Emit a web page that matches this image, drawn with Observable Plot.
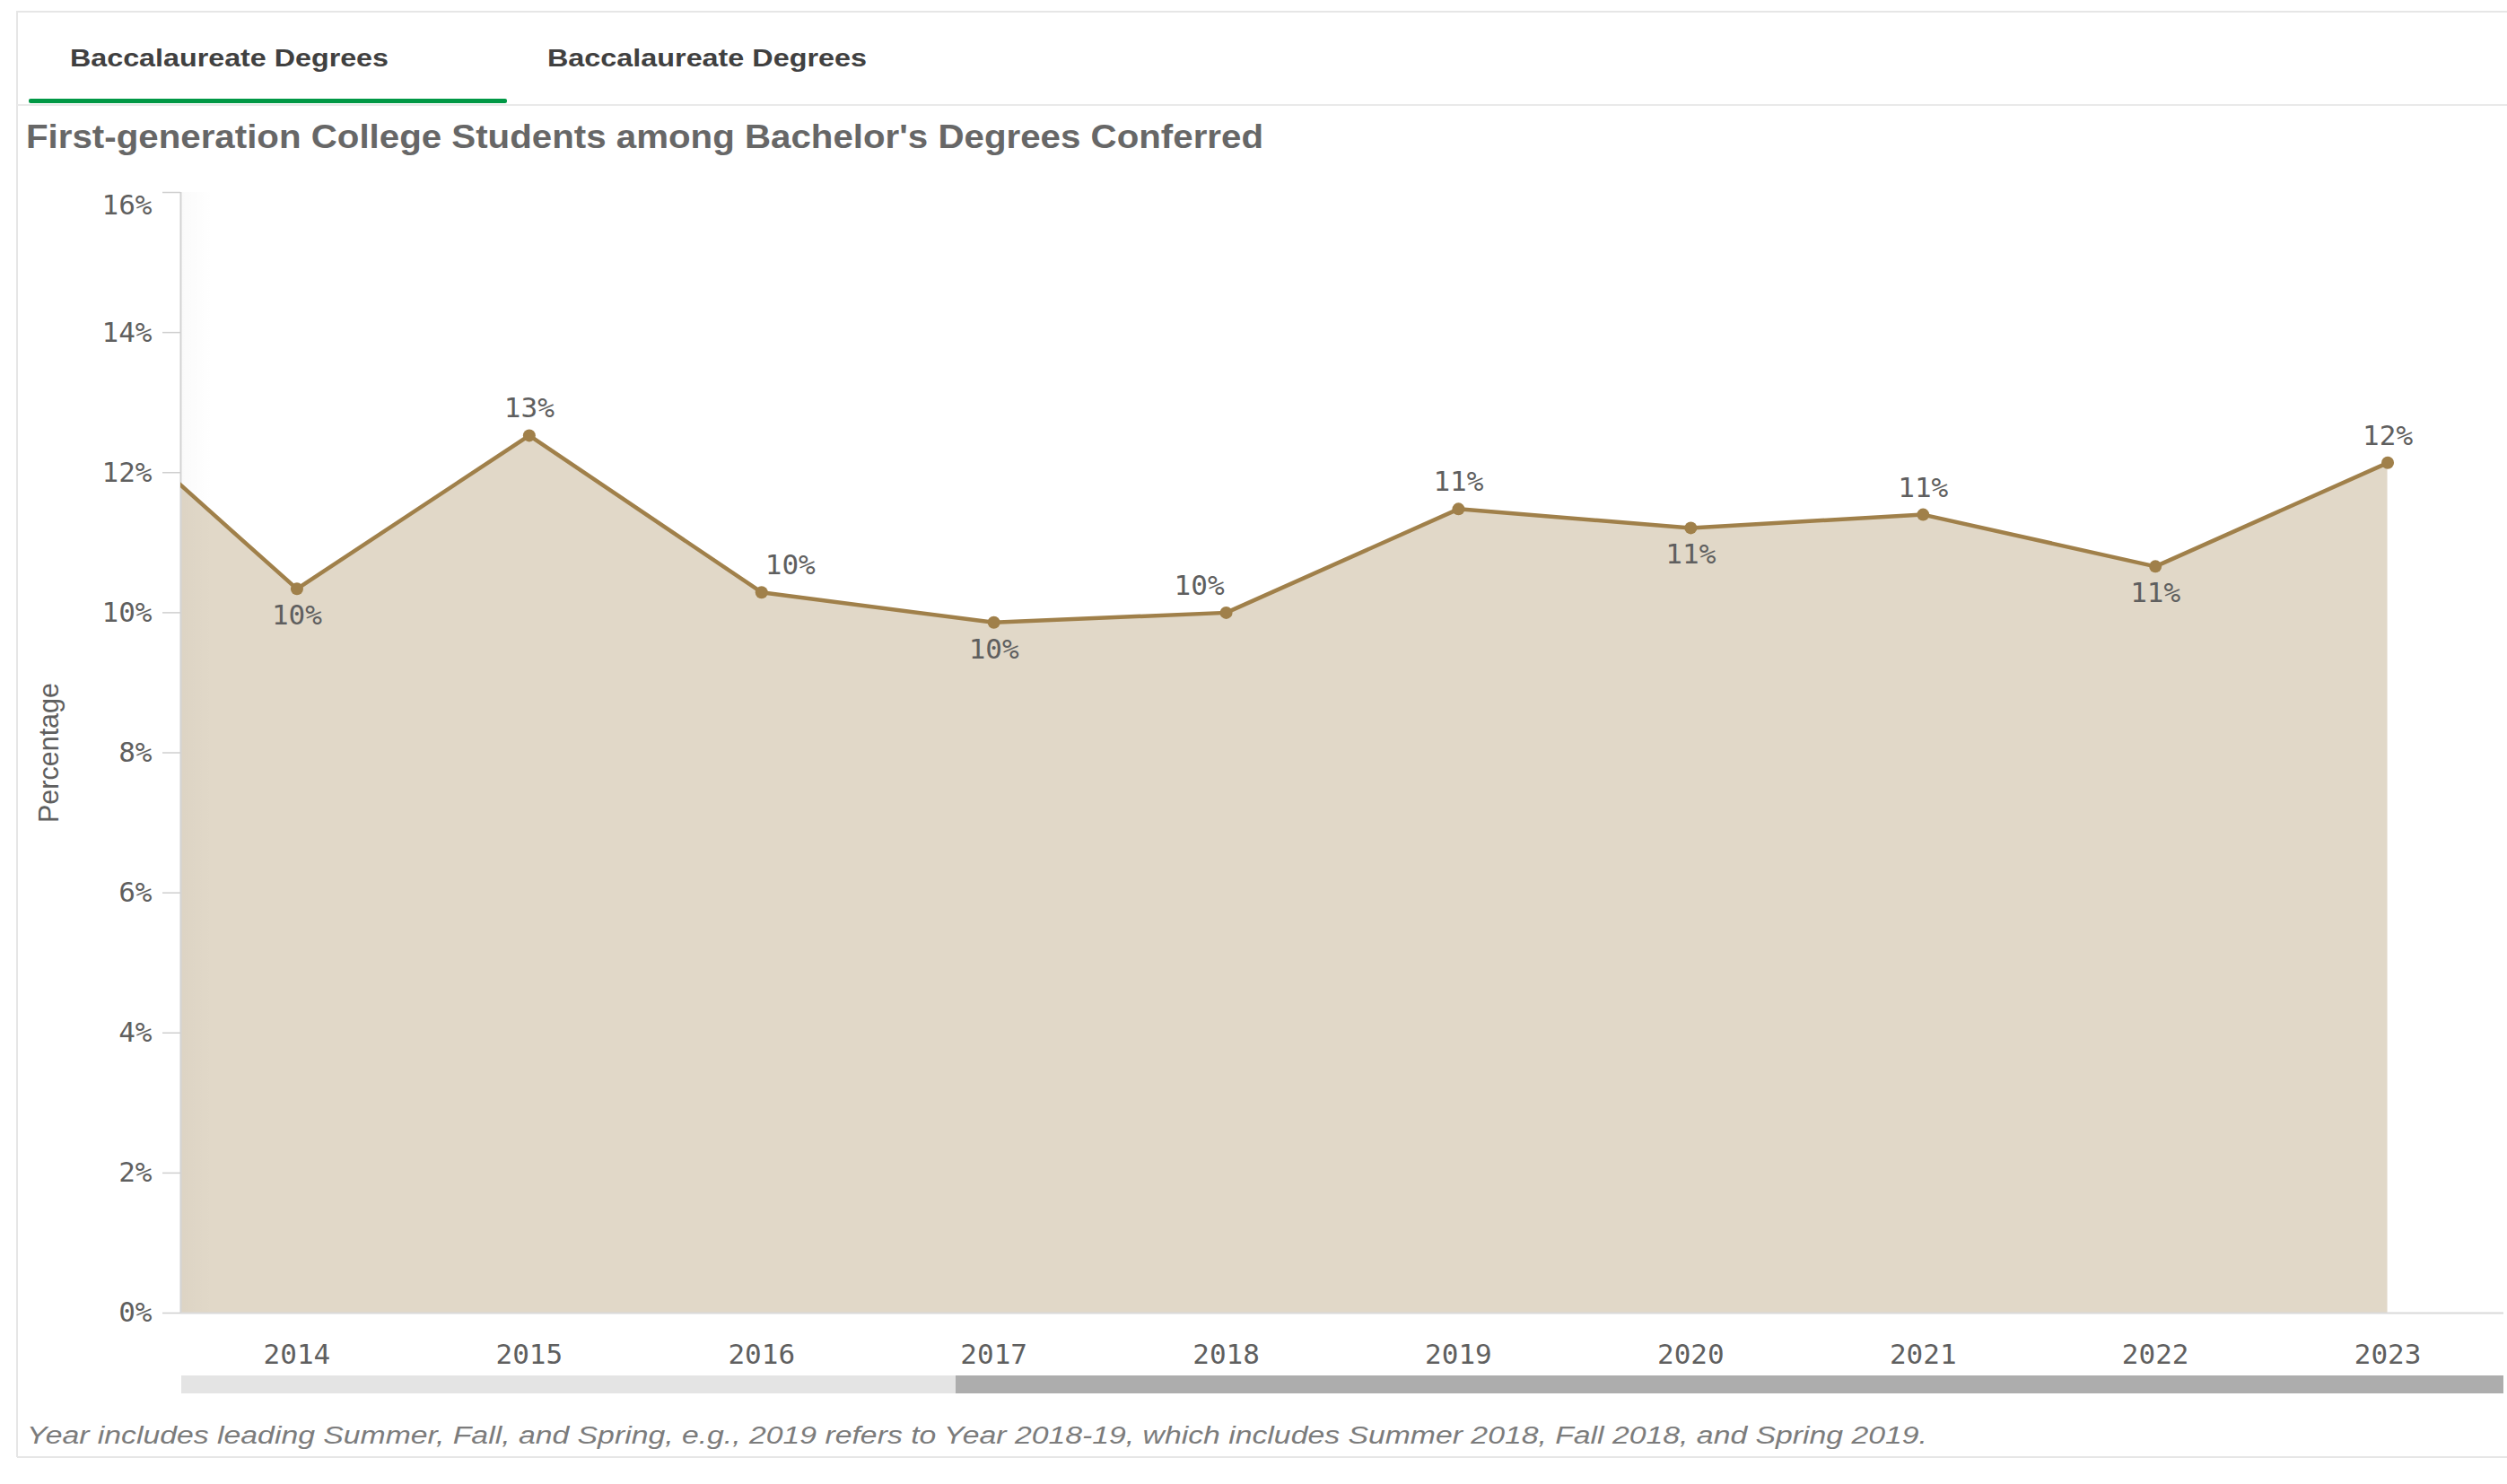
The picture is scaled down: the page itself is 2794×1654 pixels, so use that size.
<!DOCTYPE html>
<html><head><meta charset="utf-8">
<script src="https://cdn.jsdelivr.net/npm/d3@7"></script>
<script src="https://cdn.jsdelivr.net/npm/@observablehq/plot@0.6"></script>
<style>
html,body{margin:0;padding:0;background:#fff;}
#page{position:relative;width:2794px;height:1654px;overflow:hidden;font-family:"Liberation Sans",Arial,sans-serif;}
.abs{position:absolute;white-space:nowrap;}
#chart{position:absolute;left:0;top:180px;}
</style></head><body><div id="page"></div>
<script>
// ---- data ----
const years  = [2013, 2014, 2015, 2016, 2017, 2018, 2019, 2020, 2021, 2022, 2023];
const shares = [0.133, 0.1034, 0.1253, 0.1029, 0.0986, 0.1000, 0.1148, 0.1121, 0.1140, 0.1066, 0.1214];
const xTicks = [2014, 2015, 2016, 2017, 2018, 2019, 2020, 2021, 2022, 2023];
const yTicks = [0, 0.02, 0.04, 0.06, 0.08, 0.10, 0.12, 0.14, 0.16];
const tabLabels = ["Baccalaureate Degrees", "Baccalaureate Degrees"];
const titleText = "First-generation College Students among Bachelor's Degrees Conferred";
const yLabel = "Percentage";
const captionText = "Year includes leading Summer, Fall, and Spring, e.g., 2019 refers to Year 2018-19, which includes Summer 2018, Fall 2018, and Spring 2019.";

// ---- table ----
const data = years.map((year, i) => ({year, value: shares[i], prev: shares[i - 1], next: shares[i + 1]}));
function placement(d) {
  const hasP = d.prev !== undefined, hasN = d.next !== undefined;
  if (hasP && hasN && d.value < d.prev && d.value < d.next) return "below";
  if (hasP && hasN && d.prev > d.value && d.next < d.value) return "aboveRight";
  if (hasP && hasN && d.prev < d.value && d.next > d.value) return "aboveLeft";
  return "above";
}
const shown = data.filter(d => d.year >= xTicks[0]);
const pct = d3.format(".0%");

const page = document.getElementById("page");
function addDiv(style, text) {
  const el = document.createElement("div");
  el.className = "abs";
  Object.assign(el.style, style);
  if (text !== undefined) el.textContent = text;
  page.appendChild(el);
  return el;
}
function fit(el, w) {
  const r = el.getBoundingClientRect().width;
  el.style.transformOrigin = "left center";
  el.style.transform = `scaleX(${w / r})`;
}

// frame
addDiv({left: "19px", top: "12px", width: "2775px", height: "0", borderTop: "2px solid #e6e6e6"});
addDiv({left: "18px", top: "12px", width: "0", height: "1612px", borderLeft: "2px solid #e6e6e6"});
addDiv({left: "19px", top: "1623px", width: "2775px", height: "0", borderTop: "2px solid #e6e6e6"});
addDiv({left: "19px", top: "116px", width: "2775px", height: "0", borderTop: "2px solid #e9e9e9"});
addDiv({left: "32px", top: "110px", width: "533px", height: "5px", background: "#009845", borderRadius: "2px"});

const tab1 = addDiv({left: "78px", top: "52px", fontSize: "27px", lineHeight: "27px", fontWeight: "bold", color: "#404040"}, tabLabels[0]);
const tab2 = addDiv({left: "610px", top: "52px", fontSize: "27px", lineHeight: "27px", fontWeight: "bold", color: "#404040"}, tabLabels[1]);
const title = addDiv({left: "29px", top: "134px", fontSize: "37px", lineHeight: "37px", fontWeight: "bold", color: "#676767"}, titleText);
const caption = addDiv({left: "30px", top: "1587px", fontSize: "27px", lineHeight: "27px", fontStyle: "italic", color: "#7c7c7c"}, captionText);

// ---- chart ----
const lineColor = "#a0804a";
const areaColor = "#e1d8c8";
const textColor = "#5f5f5f";
const mono = "DejaVu Sans Mono";

const chart = Plot.plot({
  width: 2794,
  height: 1380,
  marginTop: 34,
  marginBottom: 97,
  marginLeft: 201,
  marginRight: 4,
  style: {fontFamily: mono, fontSize: "31px", color: textColor, background: "transparent", overflow: "visible"},
  x: {domain: [2013.5, 2023.5]},
  y: {domain: [0, 0.16]},
  marks: [
    Plot.areaY(data, {x: "year", y: "value", fill: areaColor, clip: true}),
    Plot.ruleX([2013.5], {y1: 0, y2: 0.16, stroke: "#d2d2d2", strokeWidth: 2}),
    Plot.ruleY([0], {stroke: "#d9d9d9", strokeWidth: 2}),
    Plot.axisY(yTicks, {tickSize: 20, tickPadding: 12, stroke: "#cfcfcf", strokeWidth: 1.5, fill: textColor, label: null,
      fontFamily: mono, fontSize: 31, tickFormat: t => (t === yTicks[yTicks.length - 1] ? "" : pct(t))}),
    Plot.text([yTicks[yTicks.length - 1]], {y: d => d, frameAnchor: "left", dx: -32, dy: 15, textAnchor: "end",
      text: d => pct(d), fill: textColor, fontFamily: mono, fontSize: 31}),
    Plot.axisX(xTicks, {tickSize: 0, tickPadding: 34, tickFormat: d => String(d), fill: textColor, label: null,
      fontFamily: mono, fontSize: 31}),
    Plot.lineY(data, {x: "year", y: "value", stroke: lineColor, strokeWidth: 4.5, clip: true}),
    Plot.dot(shown, {x: "year", y: "value", r: 7, fill: lineColor, stroke: null}),
    Plot.text(shown.filter(d => placement(d) === "above"), {x: "year", y: "value", text: d => pct(d.value), dy: -30, fill: textColor, fontFamily: mono, fontSize: 31}),
    Plot.text(shown.filter(d => placement(d) === "aboveRight"), {x: "year", y: "value", text: d => pct(d.value), dy: -30, dx: 32, fill: textColor, fontFamily: mono, fontSize: 31}),
    Plot.text(shown.filter(d => placement(d) === "aboveLeft"), {x: "year", y: "value", text: d => pct(d.value), dy: -30, dx: -30, fill: textColor, fontFamily: mono, fontSize: 31}),
    Plot.text(shown.filter(d => placement(d) === "below"), {x: "year", y: "value", text: d => pct(d.value), dy: 30, fill: textColor, fontFamily: mono, fontSize: 31}),
    Plot.text([yLabel], {frameAnchor: "left", textAnchor: "middle", dx: -146, rotate: -90, fill: textColor, fontFamily: "Liberation Sans", fontSize: 30.5})
  ]
});
chart.id = "chart";
page.appendChild(chart);

// faint scroll shadow at left edge of the plot
addDiv({left: "203px", top: "214px", width: "34px", height: "1248px", background: "linear-gradient(to right, rgba(0,0,0,0.02), rgba(0,0,0,0))"});
// scrollbar
addDiv({left: "202px", top: "1533px", width: "863px", height: "20px", background: "#e4e4e4"});
addDiv({left: "1065px", top: "1533px", width: "1725px", height: "20px", background: "#adadad"});

fit(tab1, 355);
fit(tab2, 356);
fit(title, 1379);
fit(caption, 2118);
</script>
</body></html>
